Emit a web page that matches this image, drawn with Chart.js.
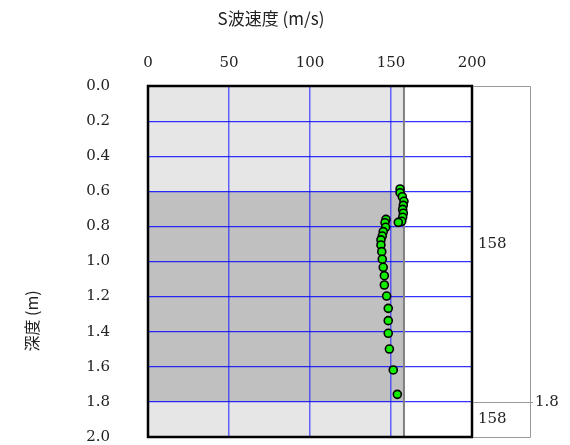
<!DOCTYPE html>
<html>
<head>
<meta charset="utf-8">
<script src="https://cdn.jsdelivr.net/npm/chart.js@4.4.1/dist/chart.umd.min.js"></script>
<style>
  html, body { margin: 0; padding: 0; background: #fff; overflow: hidden; }
  #wrap { position: relative; width: 570px; height: 445px; }
</style>
</head>
<body>
<div id="wrap"><canvas id="c"></canvas></div>
<script>
// ---- data ----
const velocity = [155.6, 155.6, 157.0, 158.0, 157.6, 157.2, 157.6, 157.2, 156.6, 154.5,
                  146.9, 146.3, 146.7, 145.2, 144.6, 143.8, 143.8, 144.3, 144.6, 145.2,
                  145.9, 145.9, 147.3, 148.3, 148.3, 148.3, 149.0, 151.4, 153.9];
const depth    = [0.587, 0.608, 0.631, 0.657, 0.680, 0.703, 0.725, 0.748, 0.771, 0.777,
                  0.760, 0.779, 0.805, 0.830, 0.855, 0.877, 0.906, 0.944, 0.987, 1.033,
                  1.081, 1.134, 1.197, 1.267, 1.337, 1.409, 1.499, 1.618, 1.757];
const layerBounds = [0.0, 1.8, 2.0];
const layerVs     = [158, 158];
const shadeRange  = [0.6, 1.8];
const xTicks = [0, 50, 100, 150, 200];
const yTicks = [0.0, 0.2, 0.4, 0.6, 0.8, 1.0, 1.2, 1.4, 1.6, 1.8, 2.0];
const xTitle = 'S波速度 (m/s)';
const yTitle = '深度 (m)';

const points = velocity.map((v, i) => ({ x: v, y: depth[i] }));
const serif = "'DejaVu Serif', 'Liberation Serif', serif";
const cjk = "'Noto Sans CJK JP', 'Noto Sans CJK SC', sans-serif";

const bgPlugin = {
  id: 'bg',
  beforeDraw(chart) {
    const { ctx, chartArea: a, scales: { x, y } } = chart;
    ctx.save();
    ctx.fillStyle = '#ffffff';
    ctx.fillRect(a.left, a.top, a.right - a.left, a.bottom - a.top);
    for (let i = 0; i < layerVs.length; i++) {
      const xr = x.getPixelForValue(layerVs[i]);
      const yt = y.getPixelForValue(layerBounds[i]);
      const yb = y.getPixelForValue(layerBounds[i + 1]);
      ctx.fillStyle = '#e6e6e6';
      ctx.fillRect(a.left, yt, xr - a.left, yb - yt);
    }
    const ys0 = y.getPixelForValue(shadeRange[0]);
    const ys1 = y.getPixelForValue(shadeRange[1]);
    const xr0 = x.getPixelForValue(layerVs[0]);
    ctx.fillStyle = '#c0c0c0';
    ctx.fillRect(a.left, ys0, xr0 - a.left, ys1 - ys0);
    ctx.restore();
  },
  beforeDatasetsDraw(chart) {
    const { ctx, scales: { x, y } } = chart;
    ctx.save();
    ctx.strokeStyle = '#808080';
    ctx.lineWidth = 2;
    for (let i = 0; i < layerVs.length; i++) {
      const xr = x.getPixelForValue(layerVs[i]);
      ctx.beginPath();
      ctx.moveTo(xr, y.getPixelForValue(layerBounds[i]));
      ctx.lineTo(xr, y.getPixelForValue(layerBounds[i + 1]));
      ctx.stroke();
    }
    ctx.restore();
  },
  afterDraw(chart) {
    const { ctx, chartArea: a, scales: { x, y } } = chart;
    ctx.save();
    ctx.strokeStyle = '#000';
    ctx.lineWidth = 2.5;
    ctx.strokeRect(a.left, a.top, a.right - a.left, a.bottom - a.top);
    const bx = a.right + 58;
    ctx.strokeStyle = '#999';
    ctx.lineWidth = 1;
    ctx.beginPath();
    ctx.moveTo(a.right + 1, a.top + 0.5); ctx.lineTo(bx + 0.5, a.top + 0.5);
    ctx.lineTo(bx + 0.5, a.bottom + 0.5); ctx.lineTo(a.right + 1, a.bottom + 0.5);
    ctx.stroke();
    ctx.font = '15px ' + serif;
    ctx.fillStyle = '#222';
    ctx.textBaseline = 'middle';
    for (let i = 1; i < layerBounds.length - 1; i++) {
      const yy = Math.round(y.getPixelForValue(layerBounds[i])) + 0.5;
      ctx.beginPath();
      ctx.moveTo(a.right + 1, yy); ctx.lineTo(bx + 3, yy);
      ctx.stroke();
      ctx.textAlign = 'left';
      ctx.fillText(layerBounds[i].toFixed(1), bx + 5, yy);
    }
    for (let i = 0; i < layerVs.length; i++) {
      const ym = y.getPixelForValue((layerBounds[i] + layerBounds[i + 1]) / 2);
      ctx.textAlign = 'left';
      ctx.fillText(String(layerVs[i]), a.right + 6, ym);
    }
    ctx.fillStyle = '#222';
    ctx.font = '17px ' + cjk;
    ctx.textAlign = 'center';
    ctx.textBaseline = 'middle';
    ctx.fillText(xTitle, 271, 19);
    ctx.translate(32, 321);
    ctx.rotate(-Math.PI / 2);
    ctx.font = '16px ' + cjk;
    ctx.fillText(yTitle, 0, 0);
    ctx.restore();
  }
};

new Chart(document.getElementById('c'), {
  type: 'scatter',
  data: {
    datasets: [{
      data: points,
      pointRadius: 4,
      pointHoverRadius: 4,
      pointBackgroundColor: '#11ee00',
      pointBorderColor: '#000',
      pointBorderWidth: 1.6
    }]
  },
  options: {
    responsive: true,
    maintainAspectRatio: false,
    animation: false,
    layout: { padding: { left: 0, top: 0, right: 98, bottom: 8 } },
    plugins: { legend: { display: false }, tooltip: { enabled: false } },
    scales: {
      x: {
        position: 'top',
        min: 0, max: 200,
        afterFit(s) { s.height = 86; s.paddingLeft = 0; s.paddingRight = 0; },
        afterBuildTicks(s) { s.ticks = xTicks.map(v => ({ value: v })); },
        ticks: { font: { family: serif, size: 15 }, color: '#222', padding: 14 },
        grid: { color: 'rgba(40,40,255,0.7)', lineWidth: 1.5, drawTicks: false },
        border: { display: false }
      },
      y: {
        reverse: true,
        min: 0, max: 2,
        afterFit(s) { s.width = 148; s.paddingTop = 0; s.paddingBottom = 0; },
        afterBuildTicks(s) { s.ticks = yTicks.map(v => ({ value: v })); },
        ticks: { font: { family: serif, size: 15 }, color: '#222', padding: 38,
                 callback: v => Number(v).toFixed(1) },
        grid: { color: 'rgba(0,0,255,0.8)', lineWidth: 1.2, drawTicks: false },
        border: { display: false }
      }
    }
  },
  plugins: [bgPlugin]
});
</script>
</body>
</html>
